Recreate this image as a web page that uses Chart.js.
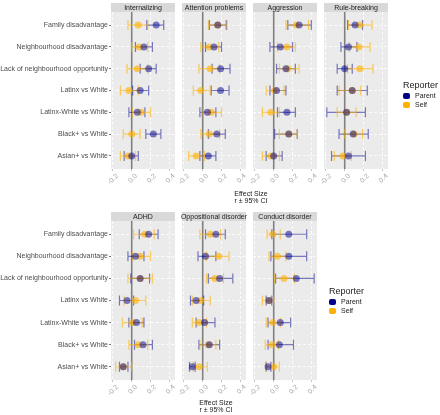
<!DOCTYPE html>
<html>
<head>
<meta charset="utf-8">
<script src="https://cdn.jsdelivr.net/npm/chart.js@4.4.1/dist/chart.umd.min.js"></script>
<style>
  body { margin: 0; background: #ffffff; }
  #wrap { position: relative; width: 440px; height: 415px; font-family: "Liberation Sans", Arial, sans-serif; }
  #wrap canvas { position: absolute; }
  .axis-title { position: absolute; width: 80px; text-align: center; font-size: 7px; line-height: 7px; color: #1a1a1a; }
  .legend { position: absolute; color: #1a1a1a; }
  .legend .head { font-size: 9px; line-height: 10px; margin-bottom: 1px; }
  .legend .row { font-size: 7px; line-height: 9px; height: 9px; display: flex; align-items: center; }
  .legend .key { display: inline-block; width: 7px; height: 6px; border-radius: 2px; margin-right: 5px; }
</style>
</head>
<body>
<div id="wrap"></div>
<script>
// ---- data ----
const categories = ['Family disadvantage', 'Neighbourhood disadvantage', 'Lack of neighbourhood opportunity',
  'Latinx vs White', 'Latinx-White vs White', 'Black+ vs White', 'Asian+ vs White'];
const xTicks = [-0.2, -0.1, 0.0, 0.1, 0.2, 0.3, 0.4];
const topOutcomes = ['Internalizing', 'Attention problems', 'Aggression', 'Rule-breaking'];
const bottomOutcomes = ['ADHD', 'Oppositional disorder', 'Conduct disorder'];
const reporters = ['Parent', 'Self'];

// [estimate, lower, upper] per category
const internalizingParent = [[0.26, 0.16, 0.34], [0.13, 0.04, 0.22], [0.18, 0.09, 0.26], [0.09, 0.01, 0.18], [0.06, -0.03, 0.14], [0.23, 0.15, 0.31], [0.00, -0.08, 0.07]];
const internalizingSelf = [[0.07, -0.04, 0.17], [0.08, 0.00, 0.17], [0.06, -0.05, 0.17], [-0.03, -0.12, 0.07], [0.10, 0.01, 0.20], [0.00, -0.09, 0.09], [-0.04, -0.12, 0.04]];
const attentionParent = [[0.16, 0.07, 0.25], [0.12, 0.03, 0.20], [0.19, 0.10, 0.29], [0.19, 0.09, 0.28], [0.05, -0.03, 0.14], [0.15, 0.06, 0.24], [0.06, -0.03, 0.14]];
const attentionSelf = [[0.16, 0.06, 0.26], [0.07, -0.02, 0.17], [0.08, -0.04, 0.18], [-0.02, -0.10, 0.08], [0.09, -0.01, 0.20], [0.07, -0.02, 0.18], [-0.07, -0.15, 0.02]];
const aggressionParent = [[0.27, 0.15, 0.40], [0.07, -0.04, 0.20], [0.13, 0.03, 0.23], [0.03, -0.04, 0.13], [0.14, 0.04, 0.23], [0.16, 0.01, 0.25], [0.00, -0.08, 0.09]];
const aggressionSelf = [[0.24, 0.13, 0.37], [0.14, 0.04, 0.23], [0.15, 0.06, 0.27], [0.01, -0.08, 0.11], [-0.03, -0.12, 0.06], [0.16, 0.06, 0.25], [-0.03, -0.12, 0.06]];
const ruleParent = [[0.11, 0.03, 0.19], [0.04, -0.04, 0.13], [0.00, -0.08, 0.08], [0.08, -0.08, 0.24], [0.02, -0.19, 0.22], [0.09, -0.06, 0.25], [0.04, -0.14, 0.22]];
const ruleSelf = [[0.16, 0.04, 0.29], [0.15, 0.05, 0.27], [0.16, 0.03, 0.30], [0.08, -0.06, 0.17], [0.02, -0.08, 0.12], [0.10, 0.00, 0.19], [-0.02, -0.11, 0.07]];
const adhdParent = [[0.18, 0.08, 0.28], [0.04, -0.04, 0.13], [0.09, -0.01, 0.19], [-0.05, -0.13, 0.02], [0.05, -0.03, 0.13], [0.12, 0.03, 0.22], [-0.09, -0.13, -0.04]];
const adhdSelf = [[0.14, 0.02, 0.24], [0.09, 0.01, 0.20], [0.09, -0.04, 0.22], [0.04, -0.08, 0.15], [0.01, -0.10, 0.11], [0.07, -0.03, 0.17], [-0.09, -0.17, 0.00]];
const oddParent = [[0.14, 0.03, 0.24], [0.03, -0.05, 0.14], [0.18, 0.06, 0.32], [-0.07, -0.13, 0.01], [0.02, -0.07, 0.13], [0.07, -0.04, 0.18], [-0.11, -0.14, -0.08]];
const oddSelf = [[0.08, -0.03, 0.19], [0.17, 0.04, 0.28], [0.13, 0.04, 0.22], [-0.02, -0.11, 0.08], [-0.04, -0.11, 0.04], [0.06, -0.03, 0.14], [-0.04, -0.10, 0.05]];
const conductParent = [[0.16, -0.02, 0.35], [0.16, -0.03, 0.35], [0.24, 0.02, 0.43], [-0.05, -0.08, -0.02], [0.07, -0.06, 0.18], [0.06, -0.06, 0.21], [-0.06, -0.08, -0.03]];
const conductSelf = [[-0.01, -0.07, 0.07], [0.04, -0.05, 0.13], [0.11, 0.01, 0.22], [-0.05, -0.12, 0.00], [-0.01, -0.08, 0.07], [-0.02, -0.09, 0.05], [0.00, -0.08, 0.06]];

const seriesFor = {
  'Internalizing': [internalizingParent, internalizingSelf],
  'Attention problems': [attentionParent, attentionSelf],
  'Aggression': [aggressionParent, aggressionSelf],
  'Rule-breaking': [ruleParent, ruleSelf],
  'ADHD': [adhdParent, adhdSelf],
  'Oppositional disorder': [oddParent, oddSelf],
  'Conduct disorder': [conductParent, conductSelf]
};

const FONT = "'Liberation Sans', Arial, sans-serif";
const pointColors = ['rgba(0, 0, 139, 0.5)', 'rgba(255, 176, 0, 0.6)'];
const keyColors = ['#00008b', '#ffb000'];

// panel background, strip, zero line and error bars
const panelPlugin = {
  id: 'panel',
  beforeDraw(chart, args, opts) {
    const { ctx, chartArea: a } = chart;
    ctx.save();
    ctx.fillStyle = '#ebebeb';
    ctx.fillRect(a.left, a.top, a.right - a.left, a.bottom - a.top);
    ctx.fillStyle = '#d9d9d9';
    ctx.fillRect(a.left, a.top - 9, a.right - a.left, 9);
    ctx.fillStyle = '#1a1a1a';
    ctx.font = '7px ' + FONT;
    ctx.textAlign = 'center';
    ctx.textBaseline = 'middle';
    ctx.fillText(opts.title, (a.left + a.right) / 2, a.top - 4.3);
    ctx.restore();
  },
  beforeDatasetsDraw(chart) {
    const { ctx, chartArea: a, scales: { x, y } } = chart;
    ctx.save();
    const x0 = x.getPixelForValue(0);
    ctx.strokeStyle = '#808080';
    ctx.lineWidth = 1.6;
    ctx.beginPath();
    ctx.moveTo(x0, a.top);
    ctx.lineTo(x0, a.bottom);
    ctx.stroke();
    chart.data.datasets.forEach(ds => {
      ctx.strokeStyle = ds.borderColor;
      ctx.lineWidth = 1.2;
      ctx.beginPath();
      ds.data.forEach((p, k) => {
        const py = y.getPixelForValue(p.y);
        const x1 = x.getPixelForValue(ds.lo[k]);
        const x2 = x.getPixelForValue(ds.hi[k]);
        ctx.moveTo(x1, py); ctx.lineTo(x2, py);
        ctx.moveTo(x1, py - 5); ctx.lineTo(x1, py + 5);
        ctx.moveTo(x2, py - 5); ctx.lineTo(x2, py + 5);
      });
      ctx.stroke();
    });
    ctx.restore();
  }
};

const rows = [
  { outcomes: topOutcomes, stripTop: 3, plotBottom: 169, lefts: [111, 182, 253, 324] },
  { outcomes: bottomOutcomes, stripTop: 212, plotBottom: 380, lefts: [111, 182, 253] }
];
const PANEL_W = 68;
const wrap = document.getElementById('wrap');

rows.forEach(row => {
  row.outcomes.forEach((outcome, i) => {
    const first = i === 0;
    const left = first ? 0 : row.lefts[i] - 20;
    const right = row.lefts[i] + PANEL_W;
    const width = right - left;
    const height = row.plotBottom - row.stripTop + 24;
    const canvas = document.createElement('canvas');
    canvas.width = width; canvas.height = height;
    canvas.style.left = left + 'px'; canvas.style.top = row.stripTop + 'px';
    canvas.style.width = width + 'px'; canvas.style.height = height + 'px';
    wrap.appendChild(canvas);

    const datasets = seriesFor[outcome].map((vals, r) => ({
      label: reporters[r],
      data: vals.map((d, k) => ({ x: d[0], y: k + 1 })),
      lo: vals.map(d => d[1]),
      hi: vals.map(d => d[2]),
      backgroundColor: pointColors[r],
      borderColor: pointColors[r],
      borderWidth: 0,
      pointRadius: 3.5
    }));

    new Chart(canvas, {
      type: 'scatter',
      data: { datasets },
      options: {
        responsive: false,
        animation: false,
        devicePixelRatio: 1,
        events: [],
        layout: { padding: { top: 9, left: 0, right: 0, bottom: 0 } },
        plugins: { legend: { display: false }, tooltip: { enabled: false }, panel: { title: outcome } },
        scales: {
          x: {
            type: 'linear', min: -0.22, max: 0.46,
            afterBuildTicks: s => { s.ticks = xTicks.map(v => ({ value: v })); },
            afterFit: s => { s.height = 24; s.paddingLeft = 0; s.paddingRight = 0; },
            border: { display: false, dash: [3, 2] },
            grid: { color: '#ffffff', lineWidth: 0.8, tickColor: '#b3b3b3', tickLength: 2, tickBorderDash: [] },
            ticks: {
              font: { size: 7, family: FONT }, color: '#a6a6a6',
              minRotation: 45, maxRotation: 45, padding: 1, labelOffset: 4.5,
              callback: v => Number(v).toFixed(1)
            }
          },
          y: {
            type: 'linear', reverse: true, min: 0.4, max: 7.6,
            afterBuildTicks: s => { s.ticks = categories.map((c, k) => ({ value: k + 1 })); },
            afterFit: s => { s.width = first ? 111 : 20; s.paddingTop = 0; s.paddingBottom = 0; },
            border: { display: false, dash: [3, 2] },
            grid: { color: '#ffffff', lineWidth: 0.8, tickColor: '#555555', tickLength: 2, drawTicks: first, tickBorderDash: [] },
            ticks: {
              display: first,
              font: { size: 7, family: FONT }, color: '#4d4d4d', padding: 1,
              callback: v => categories[v - 1] || ''
            }
          }
        }
      },
      plugins: [panelPlugin]
    });
  });
});

// axis titles
function axisTitle(cx, top) {
  const d = document.createElement('div');
  d.className = 'axis-title';
  d.style.left = (cx - 40) + 'px';
  d.style.top = top + 'px';
  d.innerHTML = 'Effect Size<br>r \u00b1 95% CI';
  wrap.appendChild(d);
}
axisTitle(251, 190);
axisTitle(216, 399);

// legends
function legend(x, y) {
  const d = document.createElement('div');
  d.className = 'legend';
  d.style.left = x + 'px';
  d.style.top = y + 'px';
  let html = '<div class="head">Reporter</div>';
  reporters.forEach((r, k) => {
    html += '<div class="row"><span class="key" style="background:' + keyColors[k] + '"></span>' + r + '</div>';
  });
  d.innerHTML = html;
  wrap.appendChild(d);
}
legend(403, 80);
legend(329, 286);
</script>
</body>
</html>
